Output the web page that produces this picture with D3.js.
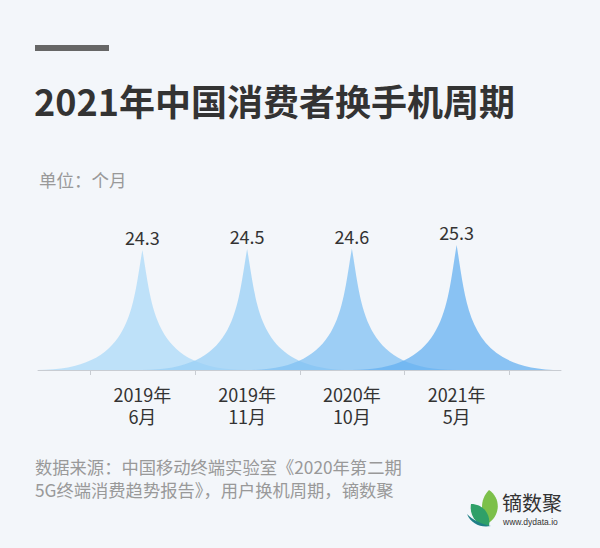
<!DOCTYPE html>
<html>
<head>
<meta charset="utf-8">
<script src="https://cdn.jsdelivr.net/npm/d3@7/dist/d3.min.js"></script>
<style>
  html, body { margin: 0; padding: 0; background: #f3f6fa; }
  svg { display: block; font-family: "Noto Sans CJK SC", "Noto Sans", sans-serif; }
</style>
</head>
<body>
<svg id="chart" width="600" height="548"></svg>
<script>
const categoriesYear = ["2019年", "2019年", "2020年", "2021年"];
const categoriesMonth = ["6月", "11月", "10月", "5月"];
const values = [24.3, 24.5, 24.6, 25.3];
const valueLabels = ["24.3", "24.5", "24.6", "25.3"];
const spikeColors = ["#acdaf8", "#98cff6", "#80c0f3", "#66b0f0"];

const titleText = "2021年中国消费者换手机周期";
const unitText = "单位：个月";
const sourceLines = ["数据来源：中国移动终端实验室《2020年第二期", "5G终端消费趋势报告》，用户换机周期，镝数聚"];

const svg = d3.select("#chart");
svg.append("rect").attr("width", 600).attr("height", 548).attr("fill", "#f3f6fa");

// header bar
svg.append("rect").attr("x", 35).attr("y", 45).attr("width", 74).attr("height", 6).attr("fill", "#666666");

svg.append("text").attr("x", 34).attr("y", 116)
  .attr("font-size", 36).attr("font-weight", "bold").attr("fill", "#333333")
  .text(titleText);

svg.append("text").attr("x", 39).attr("y", 187)
  .attr("font-size", 17.5).attr("fill", "#999999")
  .text(unitText);

// scales
const idx = values.map((d, i) => i);
const baseY = 370;
const x = d3.scaleBand().domain(idx).range([90, 509]).paddingInner(0).paddingOuter(0);
const y = d3.scaleLinear().domain([0, 26]).range([baseY, baseY - 128.4]);
const bw = x.bandwidth();

// spikes
function spikePath(cx, w, top) {
  const h = baseY - top;
  const p = d3.path();
  p.moveTo(cx - w / 2, baseY);
  p.lineTo(cx + w / 2, baseY);
  p.bezierCurveTo(cx + 0.05 * w, baseY, cx + 0.05 * w, baseY - h / 2, cx, top);
  p.bezierCurveTo(cx - 0.05 * w, baseY - h / 2, cx - 0.05 * w, baseY, cx - w / 2, baseY);
  p.closePath();
  return p.toString();
}

svg.append("g").selectAll("path").data(values).join("path")
  .attr("d", (d, i) => spikePath(x(i) + bw / 2, bw * 2, y(d)))
  .attr("fill", (d, i) => spikeColors[i])
  .attr("fill-opacity", 0.75);

// axis line and ticks
const axisG = svg.append("g");
axisG.append("line")
  .attr("x1", x(0) + bw / 2 - bw).attr("x2", x(values.length - 1) + bw / 2 + bw)
  .attr("y1", baseY + 0.5).attr("y2", baseY + 0.5)
  .attr("stroke", "#c8ccd2").attr("stroke-width", 1);
const tickPos = idx.map(i => x(i)).concat([x.range()[1]]);
axisG.selectAll("line.tick").data(tickPos).join("line")
  .attr("class", "tick")
  .attr("x1", d => Math.round(d) + 0.5).attr("x2", d => Math.round(d) + 0.5)
  .attr("y1", baseY).attr("y2", baseY + 5)
  .attr("stroke", "#c8ccd2").attr("stroke-width", 1);

// value labels
svg.append("g").selectAll("text").data(values).join("text")
  .attr("x", (d, i) => x(i) + bw / 2)
  .attr("y", d => y(d) - 5)
  .attr("text-anchor", "middle")
  .attr("font-size", 18).attr("fill", "#333333")
  .text((d, i) => valueLabels[i]);

// category labels
const catG = svg.append("g").selectAll("text").data(idx).join("text")
  .attr("text-anchor", "middle")
  .attr("font-size", 18).attr("fill", "#333333");
catG.append("tspan").attr("x", i => x(i) + bw / 2).attr("y", 402).text(i => categoriesYear[i]);
catG.append("tspan").attr("x", i => x(i) + bw / 2).attr("y", 424).text(i => categoriesMonth[i]);

// source
svg.append("g").selectAll("text").data(sourceLines).join("text")
  .attr("x", 35).attr("y", (d, i) => 474 + i * 23)
  .attr("font-size", 17.3).attr("fill", "#999999")
  .text(d => d);

// logo
const logo = svg.append("g").attr("transform", "translate(467,490)");
logo.append("path").attr("d", "M22,0 C34,8 34,26 20,34 C14,24 12,10 22,0 Z").attr("fill", "#7cc04a");
logo.append("path").attr("d", "M4,14 C16,14 24,24 22,36 C10,36 2,26 4,14 Z").attr("fill", "#2fa068");
logo.append("path").attr("d", "M0,24 C4,34 14,38 24,36 C14,34 6,30 0,24 Z").attr("fill", "#1f7f86");
svg.append("text").attr("x", 502).attr("y", 511)
  .attr("font-size", 20).attr("fill", "#333333").text("镝数聚");
svg.append("text").attr("x", 503).attr("y", 525)
  .attr("font-size", 8.5).attr("fill", "#333333").attr("font-family", "Arial, 'Liberation Sans', sans-serif")
  .text("www.dydata.io");
</script>
</body>
</html>
